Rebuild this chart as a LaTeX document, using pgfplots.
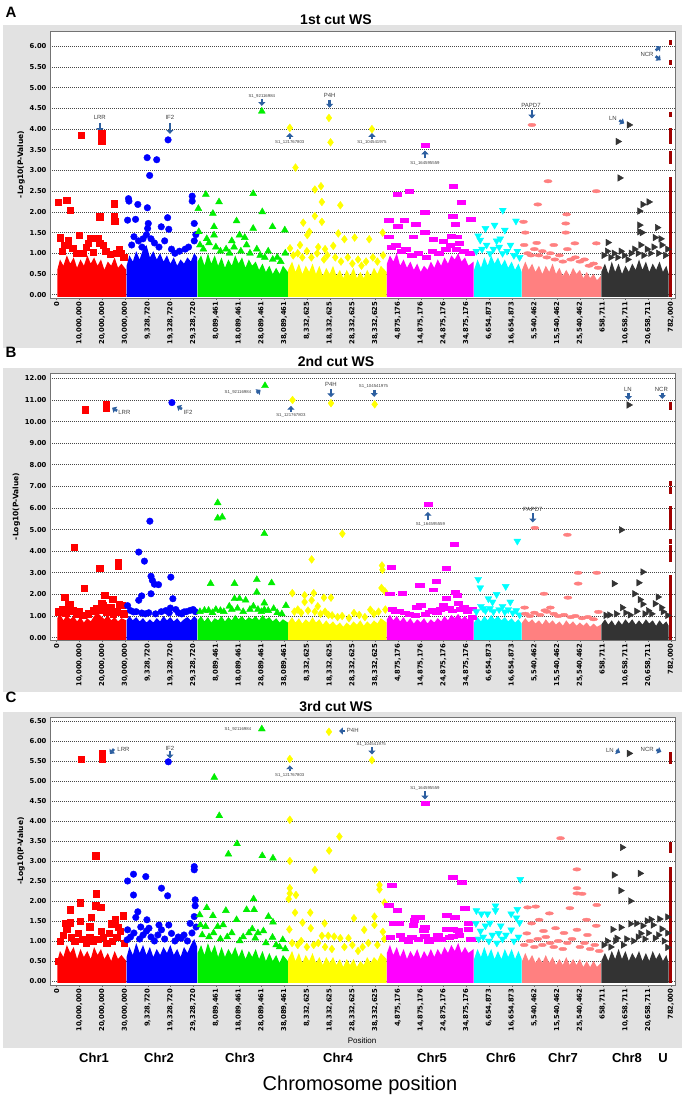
\documentclass[border=0pt]{standalone}
\usepackage{pgfplots}
\pgfplotsset{compat=1.18}
\usepackage{fontspec}
\setmainfont{Liberation Sans}
\newfontfamily\dejavu{DejaVu Sans}
\usetikzlibrary{arrows.meta}
\definecolor{cR}{RGB}{255,0,0}
\definecolor{cB}{RGB}{0,0,255}
\definecolor{cG}{RGB}{0,238,0}
\definecolor{cY}{RGB}{255,255,0}
\definecolor{cM}{RGB}{255,0,255}
\definecolor{cC}{RGB}{0,255,255}
\definecolor{cS}{RGB}{255,128,128}
\definecolor{cK}{RGB}{51,51,51}
\definecolor{cU}{RGB}{160,0,0}
\definecolor{arrowblue}{RGB}{45,95,160}
\definecolor{panelgray}{RGB}{226,226,226}
\newcommand{\tickfont}{\dejavu\bfseries\fontsize{6.8}{7}\selectfont}
\newcommand{\env}[2]{\addplot[fill=#1,draw=none,forget plot] coordinates {#2};}
\tikzset{
  arr/.style={line width=2.6pt, draw=arrowblue, -{Triangle[width=7pt,length=3.8pt]}},
  lab/.style={font=\fontsize{6}{6}\selectfont, text=black!75, inner sep=0pt},
  snp/.style={font=\fontsize{4.3}{4.3}\selectfont, text=black!75, inner sep=0pt},
}
\pgfplotsset{
  manh/.style={
    scale only axis, width=625pt, height=267pt, anchor=south west,
    xmin=-2.9, xmax=271.8, clip=true,
    xtick={0,10,...,270},
    xticklabels={0,{10,000,000},{20,000,000},{30,000,000},{9,328,720},{19,328,720},{29,328,720},{8,089,461},{18,089,461},{28,089,461},{38,089,461},{8,332,625},{18,332,625},{28,332,625},{38,332,625},{4,875,176},{14,875,176},{24,875,176},{34,875,176},{6,654,873},{16,654,873},{5,540,462},{15,540,462},{25,540,462},{658,711},{10,658,711},{20,658,711},{782,000}},
    xticklabel style={rotate=90, anchor=east, font=\tickfont, inner sep=1.5pt},
    yticklabel style={font=\tickfont},
    yticklabel={\pgfmathprintnumber[fixed,fixed zerofill,precision=2,assume math mode=true]{\tick}},
    tick pos=left, xtick align=outside, major tick length=2pt,
    ytick style={draw=none}, xtick style={black!60},
    ymajorgrids=true,
    major grid style={black!72, line width=0.75pt, dash pattern=on 1pt off 1pt},
    axis line style={black!55, line width=0.9pt},
    axis background/.style={fill=white},
    ylabel={-Log10(P-Value)},
    ylabel style={font=\dejavu\bfseries\fontsize{7.5}{8}\selectfont, yshift=-2pt},
  },
  c1/.style={only marks, mark=square*, mark size=3.2pt, color=cR},
  c2/.style={only marks, mark=*, mark size=3.3pt, color=cB},
  c3/.style={only marks, mark=triangle*, mark size=4pt, color=cG},
  c4/.style={only marks, mark=diamond*, mark size=3.9pt, color=cY},
  c5/.style={only marks, mark=square*, mark size=2.8pt, mark options={xscale=1.5,yscale=0.68}, color=cM},
  c6/.style={only marks, mark=triangle*, mark size=4pt, mark options={rotate=180}, color=cC},
  c7/.style={only marks, mark=*, mark size=2.9pt, mark options={xscale=1.4,yscale=0.6}, color=cS},
  c8/.style={only marks, mark=triangle*, mark size=3.8pt, mark options={rotate=-90}, color=cK},
  cu/.style={color=cU, line width=3.5pt, unbounded coords=jump, mark=none},
}
\begin{document}
\begin{tikzpicture}
\path[use as bounding box] (0pt,0pt) rectangle (686pt,1101pt);
\fill[panelgray] (3pt,753pt) rectangle (682pt,1076pt);
\fill[panelgray] (3pt,409pt) rectangle (682pt,733pt);
\fill[panelgray] (3pt,53pt) rectangle (682pt,389pt);
\node[font=\bfseries\fontsize{15}{15}\selectfont] at (11pt,1089pt) {A};
\node[font=\bfseries\fontsize{14}{14}\selectfont] at (336pt,1081pt) {1st cut WS};
\node[font=\bfseries\fontsize{15}{15}\selectfont] at (11pt,749pt) {B};
\node[font=\bfseries\fontsize{14}{14}\selectfont] at (336pt,739pt) {2nd cut WS};
\node[font=\bfseries\fontsize{15}{15}\selectfont] at (11pt,404pt) {C};
\node[font=\bfseries\fontsize{14}{14}\selectfont] at (336pt,394pt) {3rd cut WS};
\node[font=\fontsize{8}{8}\selectfont] at (362pt,60pt) {Position};
\foreach \xx/\tt in {94/Chr1,159/Chr2,240/Chr3,338/Chr4,432/Chr5,501/Chr6,563/Chr7,627/Chr8,663/U}
  \node[font=\bfseries\fontsize{13}{13}\selectfont] at (\xx pt,43pt) {\tt};
\node[font=\fontsize{20}{20}\selectfont] at (360pt,16pt) {Chromosome position};

%================ PANEL A =================
\begin{axis}[manh, at={(50pt,803pt)}, ymin=-0.08, ymax=6.37, ytick={0,0.5,...,6}]
\env{cR}{(0.3,-0.05) (0.3,0.6) (1.5,0.85) (3,0.7) (4.5,0.95) (6,0.75) (7.5,0.9) (9,0.65) (10.5,0.85) (12,0.7) (13.5,0.95) (15,0.75) (16.5,0.9) (18,0.7) (19.5,0.85) (21,0.6) (22.5,0.8) (24,0.7) (25.5,0.9) (27,0.65) (28.5,0.75) (30.6,0.6) (30.6,-0.05)}
\env{cB}{(30.8,-0.05) (30.8,0.7) (32,0.95) (33.5,0.8) (35,1.05) (36.5,0.85) (38,1.1) (39.5,1.2) (41,0.9) (42.5,1.05) (44,0.85) (45.5,1.0) (47,0.8) (48.5,0.95) (50,0.75) (51.5,0.9) (53,0.7) (54.5,0.85) (56,0.75) (57.5,0.9) (59,0.8) (60.5,1.0) (61.8,0.9) (61.8,-0.05)}
\env{cG}{(62,-0.05) (62,0.8) (63.5,0.95) (65,0.7) (66.5,1.0) (68,0.75) (69.5,0.95) (71,0.7) (72.5,0.9) (74,0.65) (75.5,0.85) (77,0.7) (78.5,0.95) (80,0.75) (81.5,0.9) (83,0.65) (84.5,0.85) (86,0.7) (87.5,0.8) (89,0.6) (90.5,0.75) (92,0.55) (93.5,0.7) (95,0.5) (96.5,0.65) (98,0.5) (99.5,0.7) (101.6,0.55) (101.6,-0.05)}
\env{cY}{(101.8,-0.05) (101.8,0.6) (103.5,0.8) (105,0.55) (106.5,0.75) (108,0.5) (109.5,0.7) (111,0.55) (112.5,0.75) (114,0.5) (115.5,0.7) (117,0.45) (118.5,0.65) (120,0.5) (121.5,0.7) (123,0.45) (124.5,0.6) (126,0.4) (127.5,0.6) (129,0.45) (130.5,0.65) (132,0.4) (133.5,0.55) (135,0.4) (136.5,0.6) (138,0.45) (139.5,0.65) (141,0.5) (142.5,0.7) (145,0.55) (145,-0.05)}
\env{cM}{(145.2,-0.05) (145.2,0.75) (146.5,0.95) (148,0.8) (149.5,1.0) (151,0.7) (152.5,0.85) (154,0.65) (155.5,0.8) (157,0.6) (158.5,0.75) (160,0.55) (161.5,0.7) (163,0.6) (164.5,0.8) (166,0.65) (167.5,0.85) (169,0.7) (170.5,0.9) (172,0.75) (173.5,0.95) (175,0.85) (176.5,1.0) (178,0.8) (179.5,0.9) (181,0.7) (183.3,0.8) (183.3,-0.05)}
\env{cC}{(183.5,-0.05) (183.5,0.6) (185,0.85) (186.5,0.65) (188,0.9) (189.5,0.7) (191,0.95) (192.5,0.75) (194,0.9) (195.5,0.7) (197,0.85) (198.5,0.65) (200,0.8) (201.5,0.6) (203,0.75) (204.4,0.55) (204.4,-0.05)}
\env{cS}{(204.6,-0.05) (204.6,0.6) (206,0.8) (207.5,0.6) (209,0.75) (210.5,0.55) (212,0.7) (213.5,0.5) (215,0.7) (216.5,0.55) (218,0.75) (219.5,0.5) (221,0.65) (222.5,0.45) (224,0.6) (225.5,0.45) (227,0.65) (228.5,0.5) (230,0.6) (231.5,0.4) (233,0.55) (234.5,0.4) (236,0.5) (237.5,0.35) (239.2,0.45) (239.2,-0.05)}
\env{cK}{(239.4,-0.05) (239.4,0.55) (241,0.75) (242.5,0.5) (244,0.8) (245.5,0.55) (247,0.75) (248.5,0.5) (250,0.7) (251.5,0.55) (253,0.75) (254.5,0.6) (256,0.85) (257.5,0.6) (259,0.8) (260.5,0.55) (262,0.75) (263.5,0.6) (265,0.8) (266.5,0.55) (268,0.7) (269,0.5) (269,-0.05)}
\addplot[c1] coordinates {(10.7,3.85) (19.8,3.72) (19.8,3.8) (19.8,3.9) (0.8,2.24) (4.5,2.28) (5.9,2.04) (25.3,2.2) (19,1.88) (25.3,1.88) (25.6,1.78) (9.9,1.44) (1.7,1.38) (5.2,1.3) (15,1.36) (18,1.36) (19,1.24) (27.4,1.1) (11.7,1.0) (2.5,1.05) (7,1.12) (8.5,1.0) (13,1.15) (16,1.02) (21.5,1.05) (23.5,0.98) (26.5,1.0) (29.5,0.9) (3.5,1.2) (14,1.25) (20.5,1.2) (28.5,1.0)};
\addplot[c2] coordinates {(49,3.74) (39.8,3.31) (44,3.26) (40.9,2.88) (31.6,2.32) (31.8,2.26) (35.7,2.18) (39.9,2.1) (31.2,1.8) (34.7,1.82) (40.3,1.72) (48.8,1.86) (46,1.64) (49.3,1.58) (59.6,2.38) (59.6,2.26) (60.5,1.72) (33,1.2) (36,1.3) (37.5,1.15) (39.5,1.45) (40,1.6) (41.5,1.35) (43,1.25) (45,1.15) (47.5,1.3) (50.5,1.1) (52,1.0) (54,1.05) (56.5,1.1) (58,1.15) (60.5,1.3) (61.2,1.45) (34,1.4) (38,1.35)};
\addplot[c3] coordinates {(90.2,4.43) (65.6,2.42) (71.4,2.24) (86.4,2.44) (90.4,2.0) (62.3,2.08) (68.7,1.96) (79.1,1.78) (86.4,1.6) (94.9,1.64) (100.3,1.56) (62.5,1.52) (69.2,1.64) (69.2,1.44) (80.4,1.44) (82.7,1.38) (63,1.2) (64.5,1.1) (67,1.25) (70,1.15) (72,1.05) (74.5,1.1) (76,1.0) (78,1.15) (81,1.05) (83.5,1.2) (85,1.0) (88,1.1) (89.5,0.95) (91.5,0.9) (93,1.05) (95,0.85) (97,0.9) (98.5,0.8) (100.5,1.0) (66,1.35) (77,1.3)};
\addplot[c4] coordinates {(102.5,4.03) (119.7,4.27) (120.4,3.68) (105,3.07) (138.6,4.0) (116.2,2.62) (113.5,2.54) (116.6,2.24) (124.7,2.16) (113.5,1.9) (116.6,1.76) (108.4,1.74) (111.1,1.52) (110.2,1.44) (123.8,1.48) (126.5,1.34) (131,1.38) (137.4,1.34) (143.3,1.5) (102.6,1.12) (121.6,1.18) (104,0.95) (106,1.0) (108,0.9) (110,1.05) (112,0.9) (114.5,1.0) (117.5,0.85) (119,0.95) (122.5,0.9) (125,0.8) (128,0.9) (130,0.75) (132.5,0.85) (134,0.7) (136,0.8) (139,0.9) (141,0.8) (143.5,0.95) (107,1.2) (115,1.15) (118,1.1)};
\addplot[c5] coordinates {(161.9,3.62) (155.1,2.5) (149.7,2.42) (174.4,2.62) (177.7,2.24) (161.8,2.0) (174.1,1.9) (182,1.82) (146,1.8) (152.7,1.8) (150,1.66) (157.8,1.7) (175.3,1.7) (146,1.4) (156.7,1.4) (161.8,1.5) (165.4,1.34) (173.5,1.42) (147,1.15) (149,1.2) (151.5,1.05) (153.5,1.1) (156,0.95) (159,1.0) (162.5,0.9) (165,1.05) (168,1.0) (171,1.1) (173,1.2) (175.5,1.1) (177,1.25) (179,1.05) (181.5,1.0) (170,1.3) (176,1.4)};
\addplot[c6] coordinates {(196.1,2.04) (201.9,1.78) (188.5,1.6) (192.5,1.68) (185.3,1.42) (186.2,1.32) (197,1.56) (193.4,1.3) (184.5,1.05) (187,1.1) (189,1.2) (190.5,1.0) (192,1.1) (194.5,1.15) (196,1.0) (198,1.05) (199.5,1.2) (201,0.95) (202.5,1.05) (203.5,0.9) (195,1.35)};
\addplot[c7] coordinates {(208.9,4.1) (216,2.74) (237.2,2.5) (211.5,2.18) (224.2,1.94) (205.2,1.76) (223.8,1.72) (223.8,1.5) (206,1.5) (227.8,1.24) (237.2,1.24) (205.5,1.2) (207,1.0) (208.5,0.95) (210,1.1) (212,0.95) (213.5,1.05) (215.5,0.9) (217,1.0) (219,0.85) (221,0.95) (222.5,0.8) (224.5,1.1) (226,0.85) (228,0.9) (230,0.8) (232,0.85) (234,0.7) (236,0.75) (238,0.65) (211,1.25) (218.5,1.2)};
\addplot[c8] coordinates {(251.6,4.1) (246.7,3.7) (247.5,2.82) (260.3,2.24) (257.6,2.18) (256.2,2.02) (256.2,1.68) (264,1.62) (256.2,1.52) (257.3,1.5) (263,1.38) (242.3,1.26) (256.7,1.2) (268.5,1.1) (240.5,0.95) (242,1.05) (243.5,0.9) (245,1.0) (246.5,0.9) (248,1.05) (249.5,0.95) (251,0.85) (252.5,1.0) (254,1.1) (255.5,1.0) (258,0.95) (259.5,1.1) (261,1.0) (262.5,1.15) (264.5,1.0) (266,1.2) (267.5,0.95) (265.5,1.35)};
\addplot[cu] coordinates {(269.9,-0.05) (269.9,2.84) (269.9,nan) (269.9,3.16) (269.9,3.48) (269.9,nan) (269.9,3.65) (269.9,4.03) (269.9,nan) (269.9,4.3) (269.9,4.42) (269.9,nan) (269.9,5.56) (269.9,5.68) (269.9,nan) (269.9,6.02) (269.9,6.16)};
\node[lab] at (axis cs:19,4.29) {LRR};
\draw[arr] (axis cs:19,4.15) -- ++(0pt,-9pt);
\node[lab] at (axis cs:49.8,4.29) {IF2};
\draw[arr] (axis cs:49.8,4.15) -- ++(0pt,-11pt);
\node[snp] at (axis cs:90.2,4.79) {S1\_92116984};
\draw[arr] (axis cs:90.2,4.73) -- ++(0pt,-7pt);
\draw[arr] (axis cs:102.5,3.76) -- ++(0pt,6pt);
\node[snp] at (axis cs:102.5,3.67) {S1\_121767803};
\node[lab] at (axis cs:120,4.81) {P4H};
\draw[arr] (axis cs:120,4.71) -- ++(0pt,-8pt);
\draw[arr] (axis cs:138.6,3.76) -- ++(0pt,6pt);
\node[snp] at (axis cs:138.6,3.67) {S1\_104541975};
\draw[arr] (axis cs:161.9,3.29) -- ++(0pt,8pt);
\node[snp] at (axis cs:161.9,3.17) {S1\_164595559};
\node[lab] at (axis cs:208.5,4.56) {PAPD7};
\draw[arr] (axis cs:208.9,4.45) -- ++(0pt,-8pt);
\node[lab] at (axis cs:244.5,4.25) {LN};
\draw[arr] (axis cs:247.3,4.21) -- ++(5pt,-3pt);
\node[lab] at (axis cs:259.5,5.81) {NCR};
\draw[arr] (axis cs:263.3,5.9) -- ++(5pt,4pt);
\draw[arr] (axis cs:263.3,5.76) -- ++(5pt,-4pt);
\end{axis}

%================ PANEL B =================
\begin{axis}[manh, at={(50pt,461pt)}, ymin=-0.11, ymax=12.25, ytick={0,1,...,12}]
\env{cR}{(0.3,-0.1) (0.3,0.9) (1.5,1.1) (3,0.8) (4.5,1.05) (6,0.85) (7.5,1.0) (9,0.75) (10.5,0.95) (12,0.7) (13.5,0.9) (15,0.75) (16.5,1.0) (18,1.15) (19.5,1.0) (21,0.85) (22.5,1.05) (24,0.8) (25.5,0.95) (27,0.75) (28.5,0.9) (30.6,0.8) (30.6,-0.1)}
\env{cB}{(30.8,-0.1) (30.8,0.8) (32,1.0) (33.5,0.8) (35,0.95) (36.5,0.75) (38,0.9) (39.5,0.7) (41,0.85) (42.5,0.7) (44,0.9) (45.5,0.75) (47,1.0) (48.5,0.8) (50,0.95) (51.5,0.75) (53,0.9) (54.5,0.7) (56,0.85) (57.5,0.95) (59,0.8) (60.5,1.0) (61.8,0.85) (61.8,-0.1)}
\env{cG}{(62,-0.1) (62,0.8) (63.5,1.0) (65,0.75) (66.5,0.95) (68,0.7) (69.5,0.9) (71,0.8) (72.5,1.0) (74,0.75) (75.5,0.95) (77,0.8) (78.5,1.05) (80,0.85) (81.5,1.0) (83,0.8) (84.5,0.95) (86,0.85) (87.5,1.0) (89,0.8) (90.5,1.05) (92,0.85) (93.5,0.95) (95,0.75) (96.5,0.9) (98,0.7) (99.5,0.85) (101.6,0.7) (101.6,-0.1)}
\env{cY}{(101.8,-0.1) (101.8,0.7) (103.5,0.95) (105,0.7) (106.5,0.9) (108,0.65) (109.5,0.85) (111,0.7) (112.5,0.95) (114,0.7) (115.5,0.85) (117,0.6) (118.5,0.8) (120,0.6) (121.5,0.75) (123,0.55) (124.5,0.7) (126,0.5) (127.5,0.7) (129,0.55) (130.5,0.75) (132,0.6) (133.5,0.8) (135,0.55) (136.5,0.75) (138,0.6) (139.5,0.8) (141,0.65) (142.5,0.9) (145,0.7) (145,-0.1)}
\env{cM}{(145.2,-0.1) (145.2,0.85) (146.5,1.05) (148,0.8) (149.5,1.0) (151,0.75) (152.5,0.95) (154,0.7) (155.5,0.9) (157,0.65) (158.5,0.85) (160,0.7) (161.5,0.9) (163,0.65) (164.5,0.85) (166,0.7) (167.5,0.9) (169,0.75) (170.5,1.0) (172,0.8) (173.5,1.05) (175,0.9) (176.5,1.1) (178,0.85) (179.5,1.0) (181,0.8) (183.3,0.95) (183.3,-0.1)}
\env{cC}{(183.5,-0.1) (183.5,0.7) (185,0.95) (186.5,0.75) (188,1.0) (189.5,0.8) (191,1.05) (192.5,0.85) (194,1.0) (195.5,0.8) (197,0.95) (198.5,0.75) (200,0.9) (201.5,0.7) (203,0.85) (204.4,0.65) (204.4,-0.1)}
\env{cS}{(204.6,-0.1) (204.6,0.7) (206,0.9) (207.5,0.7) (209,0.85) (210.5,0.65) (212,0.8) (213.5,0.6) (215,0.85) (216.5,0.65) (218,0.8) (219.5,0.6) (221,0.75) (222.5,0.55) (224,0.8) (225.5,0.6) (227,0.75) (228.5,0.55) (230,0.7) (231.5,0.55) (233,0.7) (234.5,0.5) (236,0.65) (237.5,0.5) (239.2,0.6) (239.2,-0.1)}
\env{cK}{(239.4,-0.1) (239.4,0.6) (241,0.85) (242.5,0.6) (244,0.8) (245.5,0.55) (247,0.8) (248.5,0.6) (250,0.85) (251.5,0.65) (253,0.85) (254.5,0.6) (256,0.8) (257.5,0.6) (259,0.85) (260.5,0.65) (262,0.8) (263.5,0.55) (265,0.8) (266.5,0.6) (268,0.75) (269,0.55) (269,-0.1)}
\addplot[c1] coordinates {(12.7,10.55) (21.7,10.8) (21.7,10.65) (7.7,4.19) (19,3.22) (27.1,3.5) (27.1,3.3) (12.2,2.3) (3.6,1.88) (5,1.53) (6,1.53) (21.1,1.96) (19.8,1.57) (20.6,1.5) (24.7,1.77) (23.8,1.42) (27.4,1.54) (28.8,1.5) (1,1.2) (2.5,1.3) (4,1.15) (7,1.25) (8.5,1.1) (10,1.2) (11.5,1.05) (14,1.1) (16,1.25) (17.5,1.35) (19,1.3) (22,1.2) (25,1.1) (26.5,1.2) (29.5,1.1)};
\addplot[c2] coordinates {(50.7,10.88) (41,5.39) (36.1,3.96) (38.6,3.54) (41.5,2.84) (42.1,2.65) (43,2.47) (44.8,2.45) (50.2,2.8) (41.5,2.03) (37.4,1.93) (36.1,1.73) (51.1,1.8) (31.2,1.48) (50,1.37) (52.4,1.3) (58.7,1.26) (56,1.19) (33.8,1.19) (37.4,1.14) (32.5,1.25) (35,1.2) (39,1.1) (40.5,1.15) (43.5,1.1) (46,1.2) (48,1.25) (49.5,1.15) (53.5,1.15) (55,1.1) (57,1.2) (60,1.3) (61,1.2)};
\addplot[c3] coordinates {(91.6,11.66) (70.8,6.24) (70.8,5.53) (72.8,5.58) (91.3,4.81) (67.7,2.5) (78.2,2.5) (88,2.68) (94.5,2.53) (88,2.1) (78.2,1.8) (80.4,1.8) (83.1,1.73) (75.9,1.45) (91.3,1.6) (91.3,1.29) (95.4,1.34) (100.8,1.48) (65,1.26) (66.8,1.26) (63,1.2) (68.5,1.15) (70,1.3) (72,1.25) (73.5,1.2) (77,1.3) (79.5,1.35) (82,1.2) (85,1.3) (86.5,1.45) (88.5,1.3) (90,1.2) (93,1.25) (97,1.15) (99,1.1)};
\addplot[c4] coordinates {(103.7,11.0) (120.6,10.85) (139.8,10.8) (125.6,4.81) (112.1,3.62) (143,3.34) (143.2,3.14) (103.6,2.06) (109,1.96) (113,2.06) (142.8,2.3) (144.3,2.14) (117.5,1.85) (120.6,1.85) (109,1.65) (112.1,1.73) (114.8,1.45) (137.9,1.29) (130.7,1.14) (121.1,1.03) (104.5,1.2) (106,1.3) (107.5,1.15) (110.5,1.25) (113.5,1.2) (116,1.1) (118,1.2) (119.5,1.05) (123.5,0.95) (125.5,1.0) (128.5,0.9) (133,1.05) (135.5,0.95) (139.5,1.1) (141.5,1.2) (144.5,1.3)};
\addplot[c5] coordinates {(163.2,6.19) (174.8,4.31) (171.2,3.22) (147,3.27) (166.8,2.62) (159.6,2.42) (165.4,2.22) (151.8,2.06) (146.4,2.03) (175.3,2.11) (176.2,1.96) (171.2,1.83) (176.6,1.6) (169.9,1.5) (160,1.5) (158.2,1.42) (165,1.26) (182.5,1.34) (182.6,0.96) (147.5,1.3) (149,1.2) (150.5,1.25) (153,1.15) (155,1.1) (157.5,1.05) (162,1.1) (164,1.2) (167,1.15) (168.5,1.3) (172.5,1.35) (174,1.25) (177.5,1.3) (179,1.4) (180.5,1.2)};
\addplot[c6] coordinates {(202.5,4.47) (185.3,2.7) (186.2,2.31) (197.4,2.37) (189.8,1.8) (193.4,2.0) (191.6,1.65) (199.4,1.65) (187.5,1.34) (197,1.19) (184.5,1.2) (186.5,1.45) (188.5,1.25) (190.5,1.35) (192,1.2) (194.5,1.3) (196,1.45) (198.5,1.3) (200.5,1.15) (202,1.25) (203.5,1.05)};
\addplot[c7] coordinates {(210.2,5.08) (224.5,4.76) (229.2,3.0) (237.4,3.0) (229.2,2.5) (214.2,2.03) (224.7,1.85) (205.7,1.39) (217,1.39) (214.6,1.26) (238.1,1.19) (206,1.1) (208,1.0) (210,1.15) (212.5,1.05) (215.5,1.2) (218.5,1.1) (220.5,1.0) (223,1.05) (226,0.95) (228,1.0) (231,0.9) (233.5,0.95) (236,0.85)};
\addplot[c8] coordinates {(251.5,10.77) (248.2,4.99) (257.6,3.04) (255.8,2.54) (245,2.5) (254,2.03) (264.3,1.88) (256.4,1.76) (257.6,1.55) (263,1.57) (248.6,1.39) (265.8,1.39) (241.4,1.03) (254.9,1.22) (268.5,1.03) (243,1.05) (246,1.1) (250,1.15) (252,1.05) (258.5,1.1) (260,1.25) (261.5,1.1) (266.5,1.2)};
\addplot[cu] coordinates {(269.9,-0.1) (269.9,2.88) (269.9,nan) (269.9,3.5) (269.9,4.27) (269.9,nan) (269.9,4.35) (269.9,4.58) (269.9,nan) (269.9,4.96) (269.9,6.1) (269.9,nan) (269.9,6.66) (269.9,6.96) (269.9,nan) (269.9,7.04) (269.9,7.27) (269.9,nan) (269.9,10.54) (269.9,10.92)};
\draw[arr] (axis cs:26.6,10.5) -- ++(-5pt,3pt);
\node[lab] at (axis cs:29.8,10.44) {LRR};
\draw[arr] (axis cs:55.1,10.58) -- ++(-5pt,3pt);
\node[lab] at (axis cs:57.8,10.42) {IF2};
\node[snp] at (axis cs:79.7,11.37) {S1\_92116984};
\draw[arr] (axis cs:87.9,11.33) -- ++(4pt,3pt);
\draw[arr] (axis cs:103,10.45) -- ++(0pt,6pt);
\node[snp] at (axis cs:103,10.28) {S1\_121767803};
\node[lab] at (axis cs:120.6,11.7) {P4H};
\draw[arr] (axis cs:120.6,11.5) -- ++(0pt,-8pt);
\node[snp] at (axis cs:139.3,11.65) {S1\_104541975};
\draw[arr] (axis cs:139.6,11.47) -- ++(0pt,-7pt);
\node[lab] at (axis cs:251.1,11.5) {LN};
\draw[arr] (axis cs:251.3,11.33) -- ++(0pt,-7pt);
\node[lab] at (axis cs:265.8,11.5) {NCR};
\draw[arr] (axis cs:266.2,11.33) -- ++(0pt,-6pt);
\draw[arr] (axis cs:163.2,5.45) -- ++(0pt,8pt);
\node[snp] at (axis cs:164.3,5.24) {S1\_164595559};
\node[lab] at (axis cs:209.3,5.95) {PAPD7};
\draw[arr] (axis cs:209.3,5.75) -- ++(0pt,-9pt);
\end{axis}

%================ PANEL C =================
\begin{axis}[manh, at={(50pt,116pt)}, height=268pt, ymin=-0.1, ymax=6.6, ytick={0,0.5,...,6.5}]
\env{cR}{(0.3,-0.05) (0.3,0.5) (1.5,0.75) (3,0.6) (4.5,0.9) (6,0.7) (7.5,0.85) (9,0.55) (10.5,0.8) (12,0.6) (13.5,0.75) (15,0.55) (16.5,0.85) (18,0.65) (19.5,0.8) (21,0.55) (22.5,0.7) (24,0.5) (25.5,0.75) (27,0.55) (28.5,0.65) (30.6,0.5) (30.6,-0.05)}
\env{cB}{(30.8,-0.05) (30.8,0.6) (32,0.85) (33.5,0.65) (35,0.95) (36.5,0.7) (38,0.9) (39.5,0.65) (41,0.85) (42.5,0.6) (44,0.8) (45.5,0.65) (47,0.85) (48.5,0.7) (50,0.9) (51.5,0.65) (53,0.8) (54.5,0.6) (56,0.85) (57.5,0.7) (59,0.9) (60.5,1.05) (61.8,0.85) (61.8,-0.05)}
\env{cG}{(62,-0.05) (62,0.7) (63.5,0.9) (65,0.65) (66.5,0.95) (68,0.7) (69.5,0.9) (71,0.6) (72.5,0.85) (74,0.6) (75.5,0.8) (77,0.65) (78.5,0.85) (80,0.6) (81.5,0.8) (83,0.55) (84.5,0.75) (86,0.6) (87.5,0.8) (89,0.55) (90.5,0.75) (92,0.5) (93.5,0.7) (95,0.5) (96.5,0.65) (98,0.45) (99.5,0.65) (101.6,0.5) (101.6,-0.05)}
\env{cY}{(101.8,-0.05) (101.8,0.55) (103.5,0.75) (105,0.5) (106.5,0.7) (108,0.45) (109.5,0.65) (111,0.5) (112.5,0.7) (114,0.45) (115.5,0.6) (117,0.4) (118.5,0.6) (120,0.45) (121.5,0.6) (123,0.4) (124.5,0.55) (126,0.35) (127.5,0.55) (129,0.4) (130.5,0.55) (132,0.35) (133.5,0.5) (135,0.4) (136.5,0.6) (138,0.45) (139.5,0.6) (141,0.5) (142.5,0.7) (145,0.55) (145,-0.05)}
\env{cM}{(145.2,-0.05) (145.2,0.7) (146.5,0.9) (148,0.65) (149.5,0.85) (151,0.6) (152.5,0.8) (154,0.55) (155.5,0.75) (157,0.6) (158.5,0.8) (160,0.55) (161.5,0.75) (163,0.6) (164.5,0.8) (166,0.6) (167.5,0.8) (169,0.65) (170.5,0.85) (172,0.7) (173.5,0.9) (175,0.75) (176.5,0.95) (178,0.7) (179.5,0.85) (181,0.7) (183.3,0.8) (183.3,-0.05)}
\env{cC}{(183.5,-0.05) (183.5,0.55) (185,0.8) (186.5,0.6) (188,0.85) (189.5,0.6) (191,0.8) (192.5,0.55) (194,0.75) (195.5,0.55) (197,0.8) (198.5,0.6) (200,0.8) (201.5,0.55) (203,0.75) (204.4,0.55) (204.4,-0.05)}
\env{cS}{(204.6,-0.05) (204.6,0.5) (206,0.7) (207.5,0.5) (209,0.65) (210.5,0.45) (212,0.6) (213.5,0.45) (215,0.65) (216.5,0.45) (218,0.6) (219.5,0.4) (221,0.55) (222.5,0.4) (224,0.6) (225.5,0.4) (227,0.55) (228.5,0.4) (230,0.55) (231.5,0.35) (233,0.5) (234.5,0.35) (236,0.5) (237.5,0.35) (239.2,0.45) (239.2,-0.05)}
\env{cK}{(239.4,-0.05) (239.4,0.5) (241,0.7) (242.5,0.5) (244,0.75) (245.5,0.55) (247,0.8) (248.5,0.55) (250,0.75) (251.5,0.5) (253,0.7) (254.5,0.55) (256,0.75) (257.5,0.5) (259,0.7) (260.5,0.5) (262,0.75) (263.5,0.55) (265,0.7) (266.5,0.5) (268,0.65) (269,0.45) (269,-0.05)}
\addplot[c1] coordinates {(10.7,5.54) (20,5.7) (20,5.55) (17.1,3.13) (17.5,2.18) (5.9,1.78) (10.4,1.96) (17.1,1.88) (19.3,1.84) (15.3,1.59) (10.4,1.5) (25.8,1.53) (29.4,1.63) (5.9,1.46) (14.6,1.36) (19.5,1.25) (23.1,1.19) (24,1.43) (0.8,0.5) (1.5,1.0) (3,1.15) (4.5,1.3) (6.5,1.1) (8,1.0) (9.5,1.2) (11.5,1.05) (13,0.95) (14.5,1.1) (16,1.0) (18,1.05) (20.5,1.1) (22,0.95) (24.5,1.0) (26.5,1.1) (28,1.25) (29.8,0.95) (4,1.45) (27,1.35)};
\addplot[c2] coordinates {(49.1,5.48) (31.2,2.5) (33.8,2.67) (39.2,2.61) (33.8,2.15) (46.1,2.32) (48.8,2.13) (60.5,2.86) (60.5,2.78) (60.9,2.03) (60.9,1.88) (60.5,1.61) (35.7,1.73) (34.8,1.59) (39.7,1.53) (40.6,1.32) (31.2,1.28) (31,1.03) (46.1,1.28) (49.3,1.4) (50.5,1.19) (54.7,1.07) (58.7,1.44) (32.5,1.1) (34,1.2) (36.5,1.05) (38,1.15) (39.5,1.25) (41.5,1.1) (43,1.0) (44.5,1.15) (47.5,1.05) (52,1.0) (53.5,1.1) (56,1.15) (57.5,1.0) (59.5,1.2) (61.3,1.35) (45,1.4) (37,1.35)};
\addplot[c3] coordinates {(90.2,6.3) (69.3,5.09) (71.5,4.13) (79.3,3.43) (75.5,3.17) (90.4,3.13) (95.1,3.07) (86.6,2.05) (66,1.83) (74.4,1.76) (83.5,1.78) (86.8,1.78) (62.9,1.65) (68.7,1.63) (79.1,1.53) (93.1,1.61) (95.1,1.47) (63.2,1.4) (65.5,1.36) (70.8,1.36) (73.2,1.4) (87.3,1.07) (90.9,1.25) (94.9,1.09) (99.4,1.03) (64,1.15) (67,1.1) (69,1.2) (72,1.05) (75,1.1) (77,1.2) (80.5,1.0) (82,1.1) (84.5,1.2) (86,1.3) (88.5,1.2) (92,0.95) (96.5,0.9) (98,0.85) (100.5,0.8)};
\addplot[c4] coordinates {(119.7,6.23) (102.5,5.55) (138.6,5.52) (102.5,4.03) (124.3,3.61) (119.8,3.26) (113.5,2.78) (102.5,3.0) (102.5,2.32) (102.5,2.19) (102,2.05) (105.2,2.15) (104.8,1.71) (111.5,1.71) (108.1,1.46) (117.8,1.44) (130.7,1.57) (139.7,1.61) (141.9,2.4) (141.9,2.29) (144.1,1.96) (102.3,1.29) (111.7,1.32) (116.6,1.13) (119.4,1.13) (122,1.11) (124.7,1.07) (128.3,1.07) (135.2,1.28) (139.7,1.4) (143.4,1.23) (103.5,0.95) (106,0.9) (107.5,1.0) (110,0.85) (113,0.9) (115,0.95) (118,0.85) (121,0.8) (126.5,0.85) (130,0.9) (132.5,0.75) (134.5,0.85) (137,0.95) (141,0.9) (144,1.05)};
\addplot[c5] coordinates {(161.9,4.44) (174.1,2.59) (178.1,2.48) (147.3,2.4) (145.9,1.9) (149.7,1.76) (179.3,1.82) (171.4,1.65) (175,1.59) (157.8,1.59) (159.6,1.59) (157.2,1.53) (147.9,1.44) (150.4,1.44) (156.7,1.4) (161.8,1.34) (161.4,1.28) (171.4,1.29) (174.1,1.29) (176.3,1.27) (180.8,1.44) (180.8,1.29) (150.9,1.15) (161.8,1.11) (174.1,1.13) (146.5,1.1) (152.5,1.05) (154.5,1.0) (156,1.1) (159,1.05) (163.5,1.0) (165.5,1.05) (167.5,1.15) (169,1.05) (172.5,1.1) (177,1.15) (182,1.05)};
\addplot[c6] coordinates {(203.8,2.54) (192.9,1.88) (192.9,1.76) (202.5,1.79) (184.5,1.76) (186.7,1.68) (189.4,1.68) (199.8,1.68) (202.1,1.58) (188.5,1.38) (184.3,1.44) (186.3,1.25) (195.2,1.38) (203.5,1.46) (194.3,1.19) (199.8,1.28) (185.5,1.05) (187.5,1.1) (190,1.0) (191.5,1.15) (193.5,0.95) (196,1.05) (197.5,1.15) (201,1.0) (203,1.1) (190.5,1.45)};
\addplot[c7] coordinates {(221.5,3.57) (228.7,2.79) (228.7,2.32) (228.7,2.19) (231,2.18) (225.6,1.82) (237.4,1.9) (207,1.84) (210.6,1.86) (216.6,1.69) (212.1,1.53) (232.9,1.53) (237.2,1.38) (208.8,1.44) (219.3,1.32) (228.7,1.28) (233.3,1.15) (206.7,1.19) (205.5,0.9) (208,1.0) (210,0.85) (211.5,1.05) (213.5,0.9) (215,1.1) (217,0.95) (218.5,0.85) (220.5,1.0) (222.5,0.8) (224.5,0.95) (226.5,1.05) (230,0.85) (232,0.95) (234.5,0.8) (236.5,0.9) (238.5,0.75) (214,1.25) (223,1.2)};
\addplot[c8] coordinates {(251.6,5.69) (248.6,3.34) (245,2.65) (256.4,2.69) (247.9,2.26) (252.2,2.0) (244.4,1.29) (248,1.34) (252.2,1.43) (254.9,1.44) (257.6,1.38) (261.2,1.54) (262.1,1.4) (256.7,1.19) (263,1.07) (246.2,1.07) (268.5,1.6) (268.5,1.2) (268.5,0.84) (240.5,0.9) (242,1.0) (243.5,0.85) (245.5,1.0) (249,0.9) (250.5,1.05) (253.5,1.0) (255.5,1.1) (258.5,1.05) (260,1.2) (264.5,1.15) (266,1.3) (267,1.0) (259.5,1.5) (265,1.55)};
\addplot[cu] coordinates {(269.9,-0.05) (269.9,2.86) (269.9,nan) (269.9,3.2) (269.9,3.48) (269.9,nan) (269.9,5.42) (269.9,5.73)};
\draw[arr] (axis cs:25.2,5.8) -- ++(-4pt,-5pt);
\node[lab] at (axis cs:29.4,5.8) {LRR};
\node[lab] at (axis cs:49.8,5.82) {IF2};
\draw[arr] (axis cs:49.8,5.74) -- ++(0pt,-7pt);
\node[snp] at (axis cs:79.7,6.3) {S1\_92116984};
\draw[arr] (axis cs:102.5,5.24) -- ++(0pt,6pt);
\node[snp] at (axis cs:102.5,5.14) {S1\_121767803};
\draw[arr] (axis cs:126.8,6.25) -- ++(-6pt,0pt);
\node[lab] at (axis cs:130.2,6.27) {P4H};
\node[snp] at (axis cs:138.3,5.92) {S1\_104541975};
\draw[arr] (axis cs:138.6,5.84) -- ++(0pt,-7pt);
\node[snp] at (axis cs:161.9,4.82) {S1\_164595559};
\draw[arr] (axis cs:161.9,4.74) -- ++(0pt,-8pt);
\node[lab] at (axis cs:243.2,5.77) {LN};
\draw[arr] (axis cs:245.9,5.76) -- ++(4pt,-2pt);
\node[lab] at (axis cs:259.6,5.8) {NCR};
\draw[arr] (axis cs:263.6,5.78) -- ++(5pt,-2pt);
\end{axis}
\end{tikzpicture}
\end{document}
